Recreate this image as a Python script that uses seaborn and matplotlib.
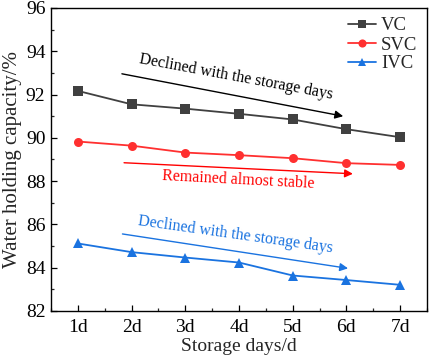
import matplotlib
matplotlib.use("Agg")
import matplotlib.pyplot as plt
import seaborn as sns
import pandas as pd
from matplotlib.ticker import MultipleLocator

days = ["1d", "2d", "3d", "4d", "5d", "6d", "7d"]
vc = [92.17, 91.55, 91.35, 91.11, 90.85, 90.40, 90.03]
svc = [89.83, 89.64, 89.32, 89.20, 89.06, 88.83, 88.75]
ivc = [85.12, 84.72, 84.47, 84.24, 83.64, 83.43, 83.21]

series = {"VC": vc, "SVC": svc, "IVC": ivc}
colors = {"VC": "#404040", "SVC": "#ff3030", "IVC": "#1a73e0"}
markers = {"VC": "s", "SVC": "o", "IVC": "^"}

rows = []
for name, vals in series.items():
    for i, v in enumerate(vals):
        rows.append({"day": i + 1, "value": v, "group": name})
df = pd.DataFrame(rows)

sns.set_theme(style="ticks")
plt.rcParams["font.family"] = ["Liberation Serif", "DejaVu Serif"]

fig = plt.figure(figsize=(4.29, 3.59), dpi=100)
ax = fig.add_axes([51/429, 1 - 311/359, 376/429, 303/359])

sns.lineplot(data=df, x="day", y="value", hue="group", style="group",
             palette=colors, markers=markers, dashes=False,
             markersize=6.5, linewidth=1.3, markeredgewidth=0, ax=ax)

ax.set_xlim(0.5, 7.5)
ax.set_ylim(82, 96)
ax.set_xticks(range(1, 8))
ax.set_xticklabels(days)
ax.xaxis.set_minor_locator(MultipleLocator(0.5))
ax.yaxis.set_major_locator(MultipleLocator(2))
ax.yaxis.set_minor_locator(MultipleLocator(1))
ax.tick_params(axis="both", which="major", direction="in", length=4, width=0.9,
               labelsize=14, colors="black", top=False, right=False)
ax.tick_params(axis="both", which="minor", direction="in", length=2.5, width=0.9,
               top=False, right=False)
ax.tick_params(axis="x", pad=6)
ax.tick_params(axis="y", pad=4)
for s in ax.spines.values():
    s.set_linewidth(1.0)
    s.set_color("black")
    s.set_visible(True)

ax.set_xlabel("Storage days/d", fontsize=14, labelpad=1)
ax.set_ylabel("Water holding capacity/%", fontsize=15, labelpad=3)

leg = ax.legend(loc="upper right", frameon=False, fontsize=13.5,
                handlelength=1.5, handletextpad=0.3, labelspacing=0.1,
                borderaxespad=0.1, markerscale=0.9)

# annotations
ax.annotate("", xy=(5.94, 91.0), xytext=(1.82, 92.96),
            arrowprops=dict(arrowstyle="-|>", color="black", lw=1.0,
                            mutation_scale=12, shrinkA=0, shrinkB=0))
ax.text(3.95, 92.8, "Declined with the storage days", color="black",
        fontsize=11.5, rotation=-10.5, ha="center", va="center",
        rotation_mode="anchor")

ax.annotate("", xy=(6.12, 88.34), xytext=(1.86, 88.85),
            arrowprops=dict(arrowstyle="-|>", color="#ff0000", lw=1.0,
                            mutation_scale=12, shrinkA=0, shrinkB=0))
ax.text(3.98, 88.05, "Remained almost stable", color="#ff0000",
        fontsize=11.5, rotation=-3, ha="center", va="center",
        rotation_mode="anchor")

ax.annotate("", xy=(6.03, 83.97), xytext=(1.83, 85.56),
            arrowprops=dict(arrowstyle="-|>", color="#1a73e0", lw=1.0,
                            mutation_scale=12, shrinkA=0, shrinkB=0))
ax.text(3.93, 85.5, "Declined with the storage days", color="#1a73e0",
        fontsize=11.5, rotation=-8, ha="center", va="center",
        rotation_mode="anchor")

fig.savefig("out.png", dpi=100)
